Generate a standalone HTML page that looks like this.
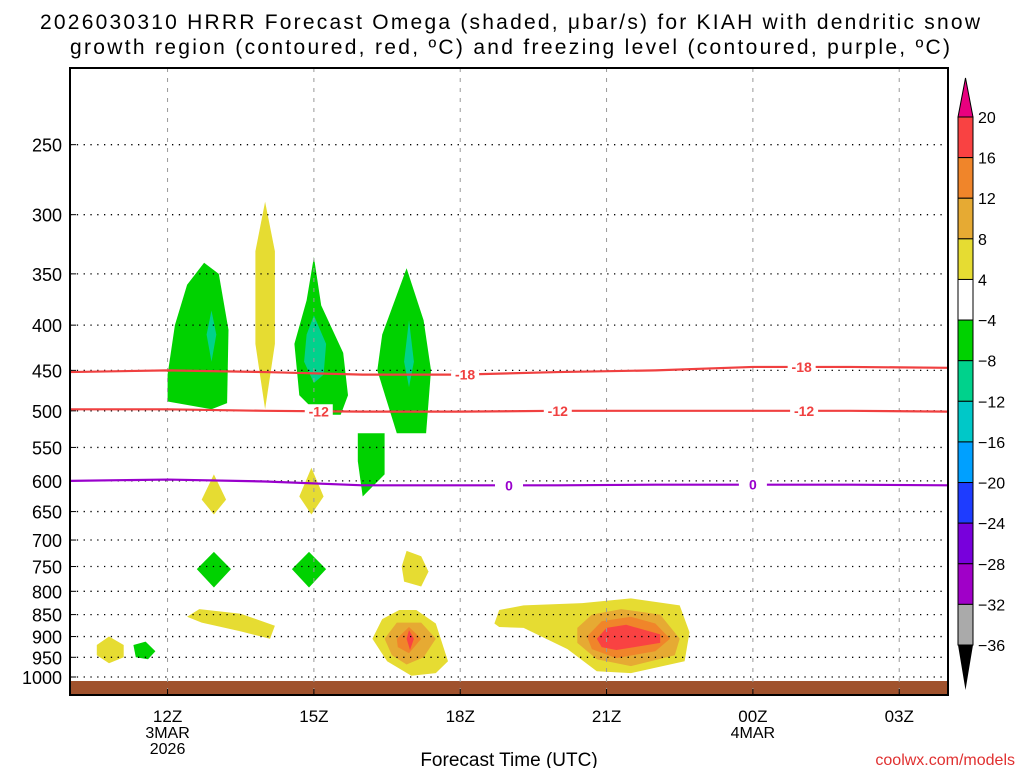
<!DOCTYPE html>
<html><head><meta charset="utf-8"><style>
body{margin:0;background:#fff;}
svg{display:block;font-family:"Liberation Sans",sans-serif;}
</style></head><body>
<svg id="c" width="1024" height="768" xmlns="http://www.w3.org/2000/svg">
<text x="510" y="29" font-size="21" text-anchor="middle" textLength="940">2026030310 HRRR Forecast Omega (shaded, μbar/s) for KIAH with dendritic snow</text>
<text x="510" y="54" font-size="21" text-anchor="middle" textLength="880">growth region (contoured, red, ºC) and freezing level (contoured, purple, ºC)</text>
<g id="plot"></g>
<text x="509" y="766" font-size="19" text-anchor="middle">Forecast Time (UTC)</text>
<text x="1015" y="765" font-size="16" fill="#e03030" text-anchor="end">coolwx.com/models</text>
</svg>
<script>
const pressureTicks=[250,300,350,400,450,500,550,600,650,700,750,800,850,900,950,1000];
const timeTicks=[12,15,18,21,24,27];
const timeLabels=["12Z","15Z","18Z","21Z","00Z","03Z"];
const dateLabels={12:["3MAR","2026"],24:["4MAR"]};
const cbLevels=["20","16","12","8","4","−4","−8","−12","−16","−20","−24","−28","−32","−36"];
const cbColors=["#f94242","#f0852a","#e6aa33","#e6dc32","#ffffff","#00d200","#00d28c","#00c8c8","#00a0ff","#1e3cff","#7800dc","#a000c8","#aaaaaa"];
// shaded blobs: [colorIndex, [[hour,hPa],...]]
const blobs=[
[5,[[12.0,455],[12.15,400],[12.4,360],[12.75,340],[13.05,350],[13.25,405],[13.22,490],[12.9,498],[12.0,488]]],
[6,[[12.9,385],[13.0,410],[12.9,440],[12.8,410]]],
[3,[[14.0,290],[14.2,330],[14.2,420],[14.0,498],[13.8,420],[13.8,330]]],
[5,[[15.0,335],[15.15,380],[15.6,430],[15.7,480],[15.55,505],[15.1,505],[14.7,480],[14.6,420],[14.85,375]]],
[6,[[15.0,390],[15.25,420],[15.2,455],[15.0,465],[14.8,440],[14.85,410]]],
[5,[[16.9,345],[17.25,395],[17.4,450],[17.3,530],[16.7,530],[16.3,450],[16.4,410]]],
[6,[[16.95,395],[17.05,440],[16.95,470],[16.85,440]]],
[5,[[15.9,530],[16.45,530],[16.45,590],[16.0,625],[15.9,570]]],
[3,[[12.95,590],[13.2,630],[12.95,655],[12.7,630]]],
[3,[[14.95,580],[15.2,625],[14.95,655],[14.7,625]]],
[5,[[12.6,755],[12.95,722],[13.3,755],[12.95,792]]],
[5,[[14.55,755],[14.9,722],[15.25,755],[14.9,792]]],
[3,[[16.8,750],[16.9,720],[17.2,730],[17.35,760],[17.2,790],[16.85,780]]],
[3,[[12.4,855],[12.65,838],[13.5,848],[14.2,875],[14.1,905],[13.5,888],[12.7,868]]],
[3,[[10.55,920],[10.8,900],[11.1,920],[11.1,950],[10.8,965],[10.55,945]]],
[5,[[11.3,920],[11.55,912],[11.75,935],[11.6,955],[11.35,950]]],
[3,[[16.2,905],[16.4,860],[16.75,840],[17.1,840],[17.5,870],[17.75,960],[17.5,990],[17.0,997],[16.5,960]]],
[2,[[16.45,905],[16.7,868],[17.2,868],[17.5,905],[17.25,950],[16.9,968],[16.6,945]]],
[1,[[16.7,905],[16.95,878],[17.2,905],[16.95,940],[16.72,925]]],
[0,[[16.9,905],[16.95,885],[17.05,905],[16.97,932]]],
[3,[[18.7,870],[18.8,840],[19.3,830],[20.5,825],[21.5,815],[22.5,830],[22.7,890],[22.6,960],[21.5,990],[20.8,985],[20.2,930],[19.3,880],[18.8,878]]],
[2,[[20.4,880],[20.7,850],[21.3,838],[22.1,850],[22.5,905],[22.4,945],[21.5,972],[20.8,955],[20.4,915]]],
[1,[[20.6,900],[20.9,865],[21.5,855],[22.0,870],[22.3,905],[22.0,935],[21.2,952],[20.7,930]]],
[0,[[20.8,905],[21.0,880],[21.4,873],[22.1,895],[22.1,915],[21.2,932],[20.9,925]]]
];
const contourHours=[10,12,14,16,18,20,22,24,26,28];
const c18=[452,450,452,455,455,452,450,446,446,447];
const c12=[498,498,500,501,501,500,500,500,500,501];
const c0=[600,598,601,607,607,607,606,606,606,607];
const cLabels=[["-18",18.1,c18,"#f04040"],["-18",25.0,c18,"#f04040"],["-12",15.1,c12,"#f04040"],["-12",20.0,c12,"#f04040"],["-12",25.05,c12,"#f04040"],["0",19.0,c0,"#9900cc"],["0",24.0,c0,"#9900cc"]];

const L=70,R=948,T=68,B=695;
const X=h=>L+(h-10)*(R-L)/18;
const Y=p=>677-384*Math.log(1000/p);
const NS="http://www.w3.org/2000/svg";
const g=document.getElementById('plot');
function mk(tag,at,parent){const e=document.createElementNS(NS,tag);for(const k in at)e.setAttribute(k,at[k]);(parent||g).appendChild(e);return e;}

blobs.forEach(b=>{
 const e=mk('polygon',{points:b[1].map(q=>X(q[0]).toFixed(1)+','+Y(q[1]).toFixed(1)).join(' '),fill:cbColors[b[0]]});
 
 
});
const gr=mk('rect',{x:L,y:681,width:R-L,height:B-681,fill:"#a0522d"});



pressureTicks.forEach(p=>{
 const y=Y(p);
 const l=mk('line',{x1:L,x2:R,y1:y,y2:y,stroke:"#000","stroke-width":1.3,"stroke-dasharray":"1.3 5.5"});
 
 
 mk('line',{x1:L,x2:L+6,y1:y,y2:y,stroke:"#000"});
 const t=mk('text',{x:62,y:y+7,"font-size":18,"text-anchor":"end"});t.textContent=p;
 
 
});
timeTicks.forEach((h,i)=>{
 const x=X(h);
 const l=mk('line',{x1:x,x2:x,y1:T,y2:B,stroke:"#999","stroke-width":1,"stroke-dasharray":"4 6"});
 
 
 mk('line',{x1:x,x2:x,y1:B,y2:B-6,stroke:"#000"});
 const t=mk('text',{x:x,y:722,"font-size":17,"text-anchor":"middle"});t.textContent=timeLabels[i];
 
 
 (dateLabels[h]||[]).forEach((s,j)=>{const d=mk('text',{x:x,y:738+j*16,"font-size":16,"text-anchor":"middle"});d.textContent=s;
 
 });
});
[[c18,"#f04040","contour-minus-18"],[c12,"#f04040","contour-minus-12"],[c0,"#9900cc","freezing-level-contour"]].forEach(c=>{
 const e=mk('polyline',{points:contourHours.map((h,i)=>X(h)+','+Y(c[0][i])).join(' '),fill:"none",stroke:c[1],"stroke-width":2.2});
 
 
});
cLabels.forEach(c=>{
 let i=0;while(i<contourHours.length-2&&contourHours[i+1]<c[1])i++;
 const f=(c[1]-contourHours[i])/(contourHours[i+1]-contourHours[i]);
 const p=c[2][i]+f*(c[2][i+1]-c[2][i]);
 const x=X(c[1]),y=Y(p);
 mk('rect',{x:x-14,y:y-7,width:28,height:14,fill:"#fff"});
 const t=mk('text',{x:x,y:y+5,"font-size":14,"font-weight":"bold","text-anchor":"middle",fill:c[3]});t.textContent=c[0];
 
 
});
const fr=mk('rect',{x:L,y:T,width:R-L,height:B-T,fill:"none",stroke:"#000","stroke-width":2});



// colorbar
const cx=958,cw=15,ct=117,seg=(645-117)/13;
const tri=mk('polygon',{points:`${cx},${ct} ${cx+cw},${ct} ${cx+cw/2},78`,fill:"#e8007f",stroke:"#000"});


cbColors.forEach((col,i)=>{
 const r=mk('rect',{x:cx,y:ct+i*seg,width:cw,height:seg,fill:col,stroke:"#000","stroke-width":1});
 
 
});
const tb=mk('polygon',{points:`${cx},645 ${cx+cw},645 ${cx+cw/2},690`,fill:"#000"});


cbLevels.forEach((s,i)=>{
 const t=mk('text',{x:978,y:ct+i*seg+6,"font-size":16});t.textContent=s;
 
 
});
</script>
</body></html>
